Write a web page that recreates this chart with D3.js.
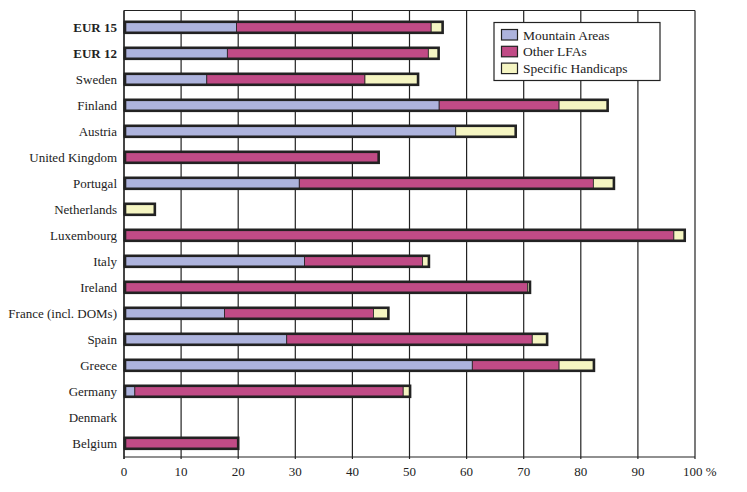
<!DOCTYPE html>
<html><head><meta charset="utf-8">
<script src="https://cdn.jsdelivr.net/npm/d3@7"></script>
<style>body{margin:0;background:#fff}svg{display:block}</style>
</head><body>
<svg id="c" width="747" height="492"></svg>
<script>
const categories = ["EUR 15","EUR 12","Sweden","Finland","Austria","United Kingdom","Portugal","Netherlands","Luxembourg","Italy","Ireland","France (incl. DOMs)","Spain","Greece","Germany","Denmark","Belgium"];
const mountainAreas   = [19.7, 18.1, 14.5, 55.2, 58.1, 0,    30.7, 0,   0,    31.6, 0,    17.6, 28.5, 61.0, 1.9, 0, 0];
const otherLFAs       = [34.1, 35.2, 27.7, 21.0, 0,    44.6, 51.5, 0,   96.3, 20.7, 70.7, 26.1, 43.0, 15.2, 47.0, 0, 20.0];
const specificHandic  = [2.0,  1.8,  9.3,  8.5,  10.5, 0,    3.6,  5.4, 1.9,  1.1,  0.4,  2.6,  2.6,  6.1,  1.2, 0, 0];
const boldCats = ["EUR 15","EUR 12"];
const seriesNames = ["Mountain Areas","Other LFAs","Specific Handicaps"];
const colors = ["#adb3dd","#c04b86","#f5f5c2"];
const xTicks = [0,10,20,30,40,50,60,70,80,90,100];

const svg = d3.select("#c");
const L = 124, R = 695, T = 10.5, B = 457;
const x = d3.scaleLinear().domain([0,100]).range([L,R]);
const y = d3.scaleBand().domain(categories).range([14.3,456.3]).paddingInner(0.5).paddingOuter(0.25);
const font = "'Liberation Serif', 'DejaVu Serif', serif";

// grid
svg.append("g").selectAll("line").data(xTicks).join("line")
  .attr("x1",d=>x(d)).attr("x2",d=>x(d)).attr("y1",T).attr("y2",B+2)
  .attr("stroke","#222").attr("stroke-width",1.2);
svg.append("line").attr("x1",L).attr("x2",R).attr("y1",T).attr("y2",T).attr("stroke","#222").attr("stroke-width",1.2);
svg.append("line").attr("x1",L).attr("x2",R).attr("y1",B).attr("y2",B).attr("stroke","#222").attr("stroke-width",1.2);

const data = categories.map((c,i)=>({cat:c, vals:[mountainAreas[i],otherLFAs[i],specificHandic[i]]}));
const stack = d3.stack().keys([0,1,2]).value((d,k)=>d.vals[k]);
const series = stack(data);
const bh = 11;
series.forEach((s,k)=>{
  svg.append("g").selectAll("rect").data(s.filter(d=>d[1]-d[0]>0)).join("rect")
    .attr("x",d=>x(d[0])).attr("width",d=>x(d[1])-x(d[0]))
    .attr("y",d=>y(d.data.cat)+y.bandwidth()/2-bh/2).attr("height",bh)
    .attr("fill",colors[k]).attr("stroke","#222").attr("stroke-width",0.8);
});
// outline
svg.append("g").selectAll("rect").data(data.filter(d=>d3.sum(d.vals)>0)).join("rect")
  .attr("x",x(0)+1).attr("width",d=>x(d3.sum(d.vals))-x(0)-1)
  .attr("y",d=>y(d.cat)+y.bandwidth()/2-bh/2).attr("height",bh)
  .attr("fill","none").attr("stroke","#222").attr("stroke-width",2.6);

// left axis line
svg.append("line").attr("x1",L).attr("x2",L).attr("y1",T).attr("y2",B+2).attr("stroke","#222").attr("stroke-width",1.2);

// category labels
svg.append("g").selectAll("text").data(categories).join("text")
  .attr("x",117).attr("y",d=>y(d)+y.bandwidth()/2).attr("dy","0.35em")
  .attr("text-anchor","end").attr("font-family",font).attr("font-size",13)
  .attr("font-weight",d=>boldCats.includes(d)?"bold":"normal").attr("fill","#222").text(d=>d);

// x tick labels
svg.append("g").selectAll("text").data(xTicks).join("text")
  .attr("x",d=>d===100?683:x(d)).attr("y",476)
  .attr("text-anchor",d=>d===100?"start":"middle")
  .attr("font-family",font).attr("font-size",13).attr("fill","#222")
  .text(d=>d===100?"100 %":d);

// legend
const lg = svg.append("g");
lg.append("rect").attr("x",494).attr("y",22.5).attr("width",166).attr("height",58).attr("fill","#fff").attr("stroke","#222").attr("stroke-width",1.2);
seriesNames.forEach((n,i)=>{
  lg.append("rect").attr("x",501.5).attr("y",29.5+i*16.8).attr("width",16).attr("height",10.5).attr("fill",colors[i]).attr("stroke","#222").attr("stroke-width",1.2);
  lg.append("text").attr("x",523).attr("y",34.8+i*16.8).attr("dy","0.35em").attr("font-family",font).attr("font-size",13.5).attr("fill","#222").text(n);
});
</script>
</body></html>
